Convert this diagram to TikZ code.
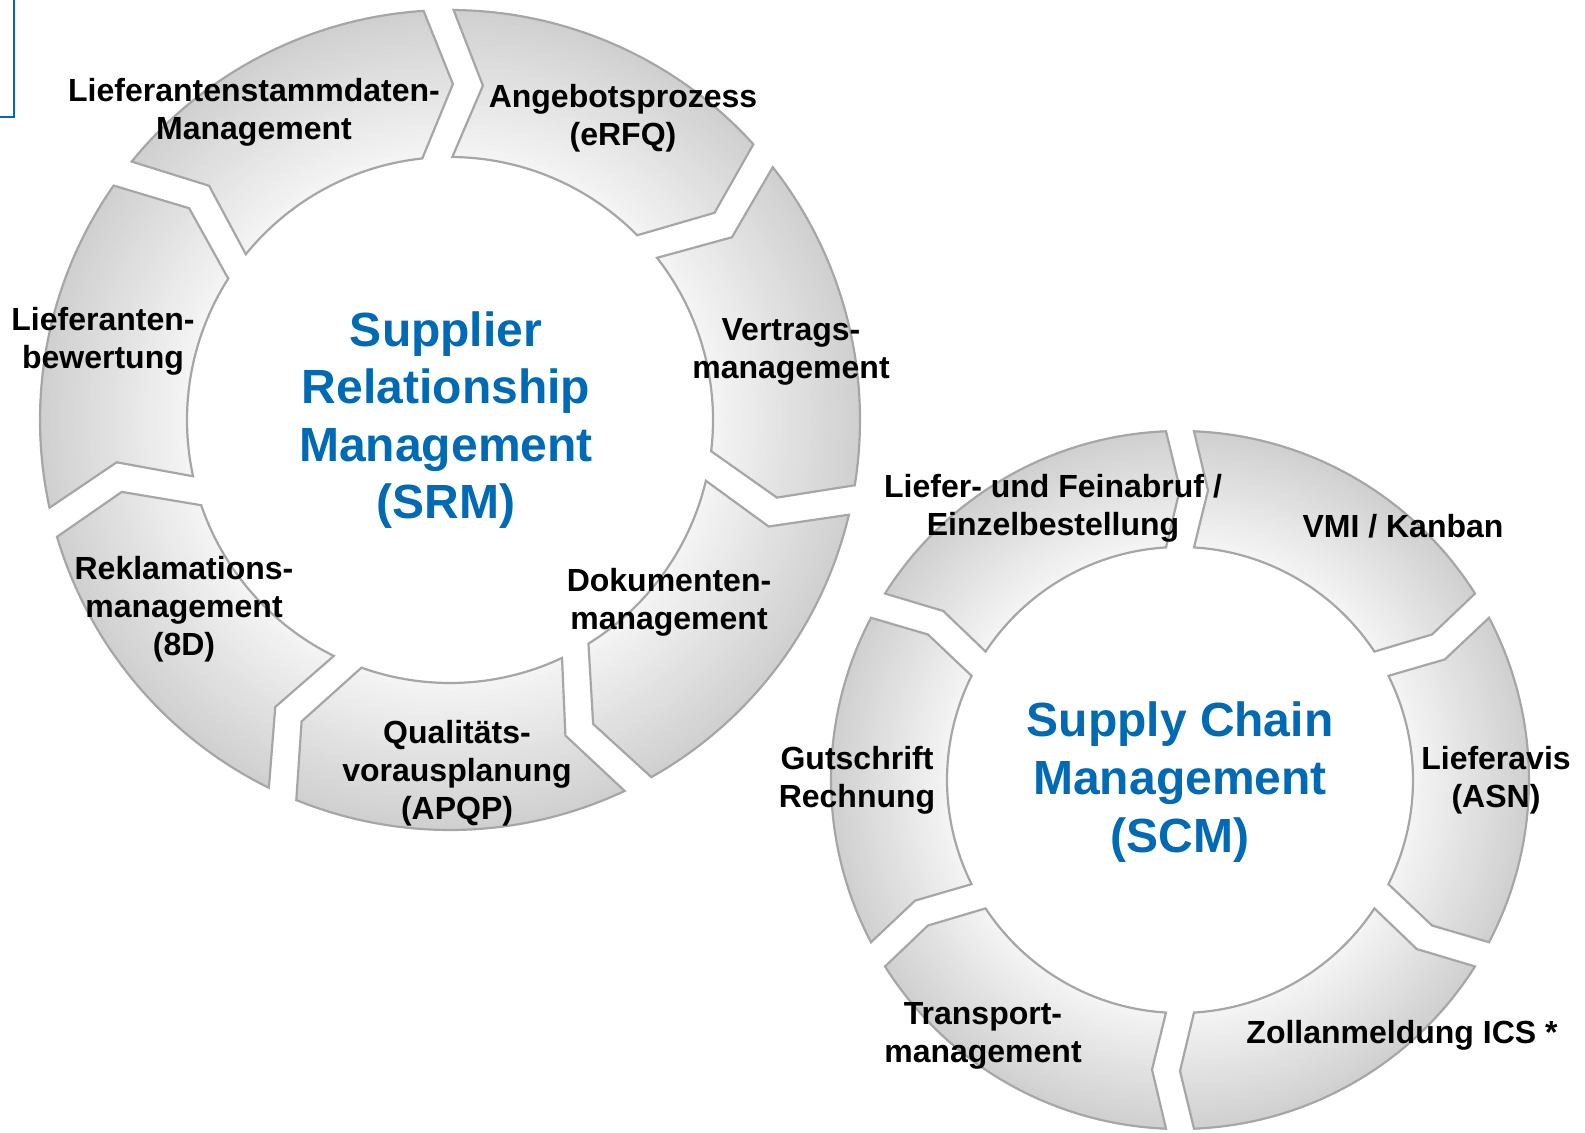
\documentclass[tikz,border=0pt]{standalone}
\usepackage{fontspec}
\setmainfont{Liberation Sans}

\definecolor{titleblue}{RGB}{0,106,180}
\definecolor{segline}{RGB}{166,166,166}
\definecolor{seglight}{RGB}{245,245,245}
\definecolor{segdark}{RGB}{208,208,208}

% one arrow piece of a ring: cx, cy, R, r, mid, head depth, tail offset, tail angle, span
\newcommand{\ringpart}[9]{%
  \def\segp{({#8-asin(#7/#3)}:#3)
      arc[start angle={#8-asin(#7/#3)}, end angle={#8-#9+asin(#6/#3)}, radius=#3]
      -- ({#8-#9}:#5)
      -- ({#8-#9+asin(#6/#4)}:#4)
      arc[start angle={#8-#9+asin(#6/#4)}, end angle={#8-asin(#7/#4)}, radius=#4]
      -- ({#8-asin((#7+#6)/#5)}:#5) -- cycle}%
  \begin{scope}[shift={(#1,#2)}]
    \begin{scope}
      \clip \segp;
      % light inside, grey towards the rim
      \foreach \i in {0,...,30} {
        \pgfmathtruncatemacro\pct{100-\i*100/30}
        \fill[segdark!\pct!seglight] (0,0) circle ({#3-\i*(#3-#4)/30});
      }
    \end{scope}
    \draw[seg] \segp;
  \end{scope}}

\begin{document}
\begin{tikzpicture}[x=0.5pt,y=0.5pt,
    seg/.style={draw=segline,line width=1.1pt,line join=miter},
    lbl/.style={align=center,inner sep=0pt,font=\bfseries\fontsize{16}{19}\selectfont},
    ttl/.style={align=center,inner sep=0pt,text=titleblue,font=\bfseries\fontsize{24}{28.8}\selectfont}]
  \useasboundingbox (0,0) rectangle (1585,-1133);
  \clip (0,0) rectangle (1585,-1133);

  % SRM ring, 7 pieces
  \foreach \k in {0,...,6}
    \ringpart{450}{-420}{410}{263}{336}{30}{0}{89.5+51.4286*(1-\k)}{51.4286};
  % SCM ring, 6 pieces
  \foreach \k in {0,...,5}
    \ringpart{1180}{-780}{349}{233}{291}{14}{14}{150-60*\k}{60};

  \draw[titleblue,line width=1.2pt] (14,0) -- (14,-117) -- (0,-117);

  \node[lbl] (stamm)    at (254,-112)  {Lieferantenstammdaten-\\Management};
  \node[lbl] (angebot)  at (623,-118)  {Angebotsprozess\\(eRFQ)};
  \node[lbl] (vertrag)  at (791,-352)  {Vertrags-\\management};
  \node[lbl] (dokument) at (669,-602)  {Dokumenten-\\management};
  \node[lbl] (quali)    at (457,-773)  {Qualitäts-\\vorausplanung\\(APQP)};
  \node[lbl] (reklam)   at (184,-609)  {Reklamations-\\management\\(8D)};
  \node[lbl] (bewert)   at (103,-341)  {Lieferanten-\\bewertung};
  \node[ttl] (srm)      at (446,-420)  {Supplier\\Relationship\\Management\\(SRM)};

  \node[lbl] (abruf)      at (1053,-508) {Liefer- und Feinabruf /\\Einzelbestellung};
  \node[lbl] (vmi)        at (1403,-526) {VMI / Kanban};
  \node[lbl] (avis)       at (1496,-780) {Lieferavis\\(ASN)};
  \node[lbl] (zoll)       at (1402,-1035) {Zollanmeldung ICS *};
  \node[lbl] (transport)  at (983,-1036) {Transport-\\management};
  \node[lbl] (gutschrift) at (857,-780)  {Gutschrift\\Rechnung};
  \node[ttl] (scm)        at (1180,-782) {Supply Chain\\Management\\(SCM)};
\end{tikzpicture}
\end{document}
